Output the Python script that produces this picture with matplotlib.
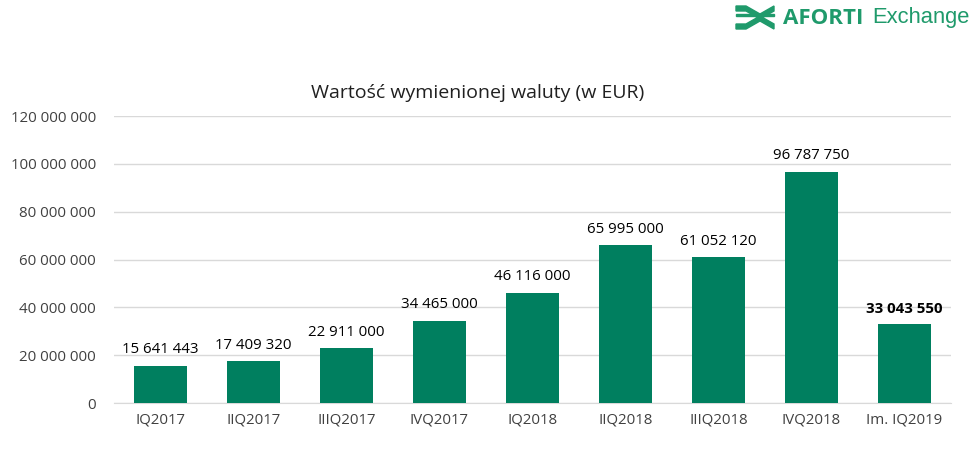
import matplotlib.pyplot as plt
import matplotlib.patches as mpatches
import numpy as np

plt.rcParams['font.family'] = ['Open Sans', 'DejaVu Sans']

categories = ["IQ2017", "IIQ2017", "IIIQ2017", "IVQ2017", "IQ2018",
              "IIQ2018", "IIIQ2018", "IVQ2018", "Im. IQ2019"]
values = [15641443, 17409320, 22911000, 34465000, 46116000,
          65995000, 61052120, 96787750, 33043550]
yticks = [0, 20000000, 40000000, 60000000, 80000000, 100000000, 120000000]

green = '#007F5F'
W, H = 979, 465


def fmt(v):
    return f"{v:,}".replace(",", " ")


fig = plt.figure(figsize=(W / 100, H / 100), dpi=100)
ax = fig.add_axes([114 / W, 1 - 403 / H, (951 - 114) / W, (403 - 116) / H])

x = np.arange(len(categories))
ax.bar(x, values, width=0.56, color=green, zorder=3)
ax.set_xlim(-0.5, len(categories) - 0.5)
ax.set_ylim(0, 120000000)
ax.set_yticks(yticks)
ax.set_yticklabels([fmt(t) for t in yticks], fontsize=10.8, color='#404040')
ax.set_xticks(x)
ax.set_xticklabels(categories, fontsize=10.8, color='#404040')
ax.tick_params(length=0)
ax.tick_params(axis='y', pad=13)
ax.tick_params(axis='x', pad=7)
ax.grid(axis='y', color='#d9d9d9', linewidth=1, zorder=0)
for s in ['top', 'right', 'left']:
    ax.spines[s].set_visible(False)
ax.spines['bottom'].set_color('#d9d9d9')

for i, v in enumerate(values):
    ax.annotate(fmt(v), (x[i], v), xytext=(0, 6), textcoords='offset points',
                ha='center', va='bottom', fontsize=10.8, color='black',
                fontweight='bold' if i == len(values) - 1 else 'normal')

fig.text(478 / W, 1 - 93 / H, "Wartość wymienionej waluty (w EUR)",
         ha='center', va='center', fontsize=14, color='#202020')

# logo
logo_green = '#1f9a6b'
fig.text(783 / W, 1 - 18 / H, "AFORTI", ha='left', va='center',
         fontsize=16, fontweight='bold', color=logo_green)
fig.text(872 / W, 1 - 18 / H, "Exchange", ha='left', va='center',
         fontsize=15.8, color=logo_green, family='Liberation Sans')


def px(pts):
    return [(a / W, 1 - b / H) for a, b in pts]


shapes = [
    [(736, 6), (746, 6), (760, 14), (774, 6), (774, 11), (760, 19), (746, 11), (736, 11)],
    [(736, 24), (746, 24), (760, 16), (774, 24), (774, 29), (760, 21), (746, 29), (736, 29)],
    [(736, 14), (774, 14), (774, 16), (736, 16)],
]
for s in shapes:
    fig.patches.append(mpatches.Polygon(px(s), closed=True, color=logo_green,
                                        transform=fig.transFigure))

fig.savefig("out.png", dpi=100)
